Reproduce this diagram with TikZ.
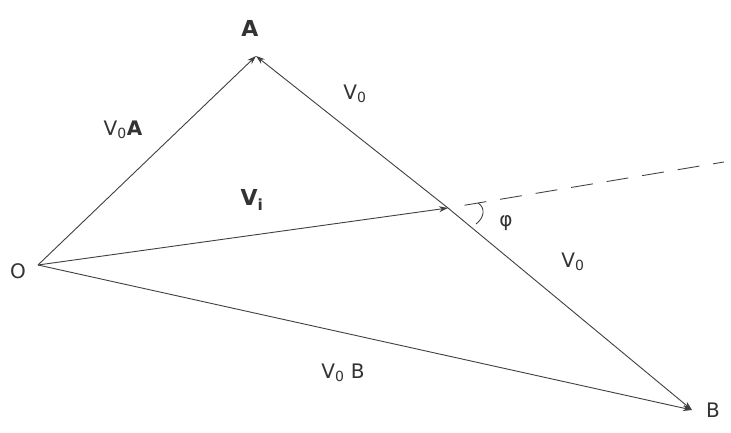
\documentclass[tikz,border=0pt]{standalone}
\usepackage{fontspec}
\setmainfont{DejaVu Sans}
\usetikzlibrary{arrows.meta,calc}
\begin{document}
\begin{tikzpicture}[x=1pt,y=-1pt,
  vec/.style={draw=black!75, line width=0.9pt, -{Stealth[length=9pt,width=6pt]}},
  seg/.style={draw=black!75, line width=0.9pt},
  lab/.style={font=\fontsize{20}{22}\selectfont, text=black!80, inner sep=1pt}]
\useasboundingbox (0,0) rectangle (731,433);
\fill[white] (0,0) rectangle (731,433);
% vertices
\coordinate (O) at (38,265);
\coordinate (A) at (256,56);
\coordinate (B) at (692,410);
\coordinate (M) at (448,208);
\coordinate (D) at (724,162);
% vectors
\draw[vec] (O) -- (A);
\draw[vec] (O) -- (M);
\draw[vec] (O) -- (B);
\draw[vec] (M) -- (A);
\draw[vec] (M) -- (B);
\draw[seg, dash pattern=on 22pt off 14pt] ($(M)!0.06!(D)$) -- (D);
% angle mark
\draw[seg] (478,203) .. controls (486,208) and (484,218) .. (476,224);
% labels
\node[lab] (Olab) at (18,271) {O};
\node[lab, font=\fontsize{22}{24}\selectfont\bfseries] (Alab) at (250,28) {A};
\node[lab] (Blab) at (713,410) {B};
\node[lab] (voa) at (123,130) {V\textsubscript{0}\textbf{A}};
\node[lab] (vo1) at (355,94) {V\textsubscript{0}};
\node[lab, font=\fontsize{22}{24}\selectfont\bfseries] (vi) at (252,200) {V\textsubscript{i}};
\node[lab] (vo2) at (573,262) {V\textsubscript{0}};
\node[lab] (vob) at (343,373) {V\textsubscript{0} B};
\node[lab] (phi) at (506,223) {φ};
\end{tikzpicture}
\end{document}
